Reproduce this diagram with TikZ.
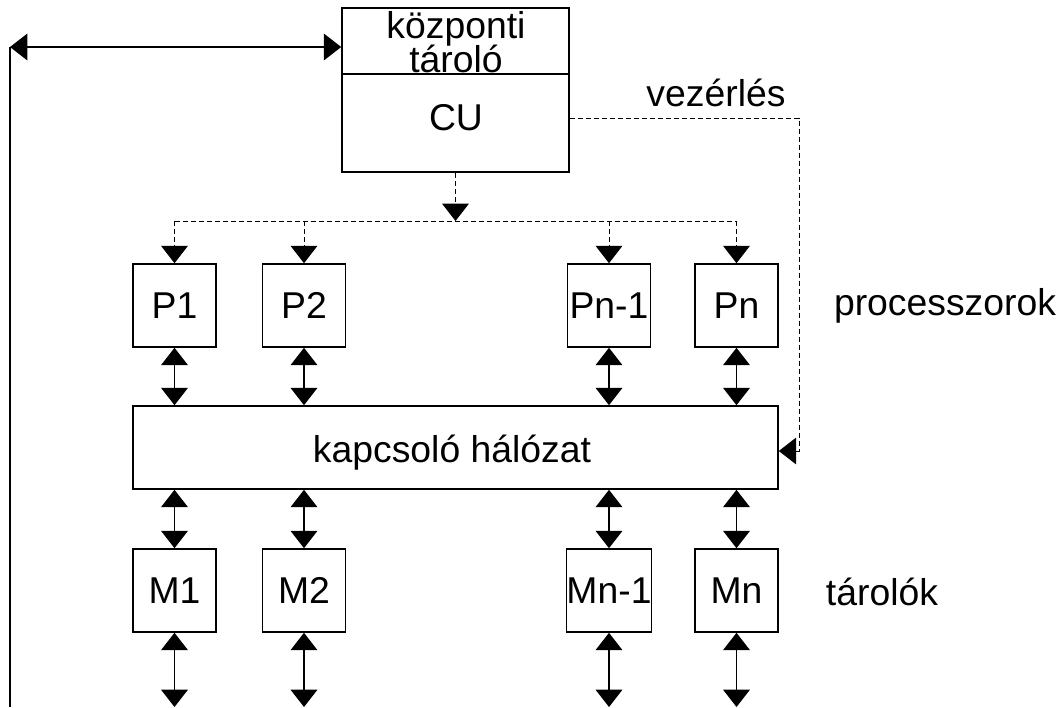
\documentclass[tikz,border=0pt]{standalone}
\usepackage{fontspec}
\setmainfont{Liberation Sans}
\usetikzlibrary{arrows.meta}
\begin{document}
\begin{tikzpicture}[x=0.75pt,y=-0.75pt,
  box/.style={draw, line width=1.2pt, inner sep=0pt, minimum width=62.25pt, minimum height=62.25pt, font=\fontsize{28}{30}\selectfont},
  txt/.style={inner sep=0pt, font=\fontsize{28}{30}\selectfont},
  link/.style={line width=1pt, {Triangle[length=13pt,width=20pt]}-{Triangle[length=13pt,width=20pt]}},
  ctrl/.style={line width=0.7pt, dash pattern=on 4pt off 2pt, -{Triangle[length=13pt,width=20pt]}},
  ctrlline/.style={line width=0.7pt, dash pattern=on 4pt off 2pt},
]
\useasboundingbox (0,0) rectangle (1064,707);

% central store + CU
\node[box, minimum width=170.25pt, minimum height=49.5pt] (tar) at (455.5,41) {};
\node[box, minimum width=170.25pt, minimum height=73.5pt] (cu) at (455.5,123) {};
\node[txt, anchor=base] (kz1) at (456,38) {központi};
\node[txt, anchor=base] (kz2) at (456,72) {tároló};
\node[txt, anchor=base] (cul) at (456,130) {CU};

% processors
\node[box] (p1) at (174.5,305.5) {P1};
\node[box] (p2) at (304,305.5) {P2};
\node[box] (p3) at (609,305.5) {Pn-1};
\node[box] (p4) at (736.5,305.5) {Pn};

% switching network
\node[box, minimum width=483.75pt] (sw) at (455.5,447.5) {};
\node[txt, anchor=base] (swl) at (452,462) {kapcsoló hálózat};

% memories
\node[box] (m1) at (174.5,590.5) {M1};
\node[box] (m2) at (304,590.5) {M2};
\node[box] (m3) at (609,590.5) {Mn-1};
\node[box] (m4) at (736.5,590.5) {Mn};

% labels
\node[txt, anchor=base] (vz) at (716,106) {vezérlés};
\node[txt, anchor=base] (proc) at (945,315) {processzorok};
\node[txt, anchor=base] (tarl) at (882,605) {tárolók};

% outside ends of the memory links
\coordinate (e1) at (174.5,707);
\coordinate (e2) at (304,707);
\coordinate (e3) at (609,707);
\coordinate (e4) at (736.5,707);

% P <-> switch, switch <-> M, M <-> outside
\foreach \i in {1,2,3,4}{
  \draw[link] (p\i.south) -- (p\i.south |- sw.north);
  \draw[link] (m\i.north |- sw.south) -- (m\i.north);
  \draw[link] (m\i.south) -- (e\i);
}

% control bus
\coordinate (bus) at (455.5,221);
\draw[ctrl] (cu.south) -- (cu.south |- bus);
\draw[ctrlline] (p1.north |- bus) -- (p4.north |- bus);
\foreach \i in {1,2,3,4}{
  \draw[ctrl] (p\i.north |- bus) -- (p\i.north);
}

% control to switch
\coordinate (v1) at (799,118);
\coordinate (v2) at (799,451);
\draw[ctrl] (cu.east |- v1) -- (v1) -- (v2) -- (sw.east |- v2);

% left link to central store
\coordinate (l1) at (10,47);
\coordinate (l0) at (10,707);
\draw[link] (l1) -- (tar.west |- l1);
\draw[line width=1pt] (l1) -- (l0);
\end{tikzpicture}
\end{document}
